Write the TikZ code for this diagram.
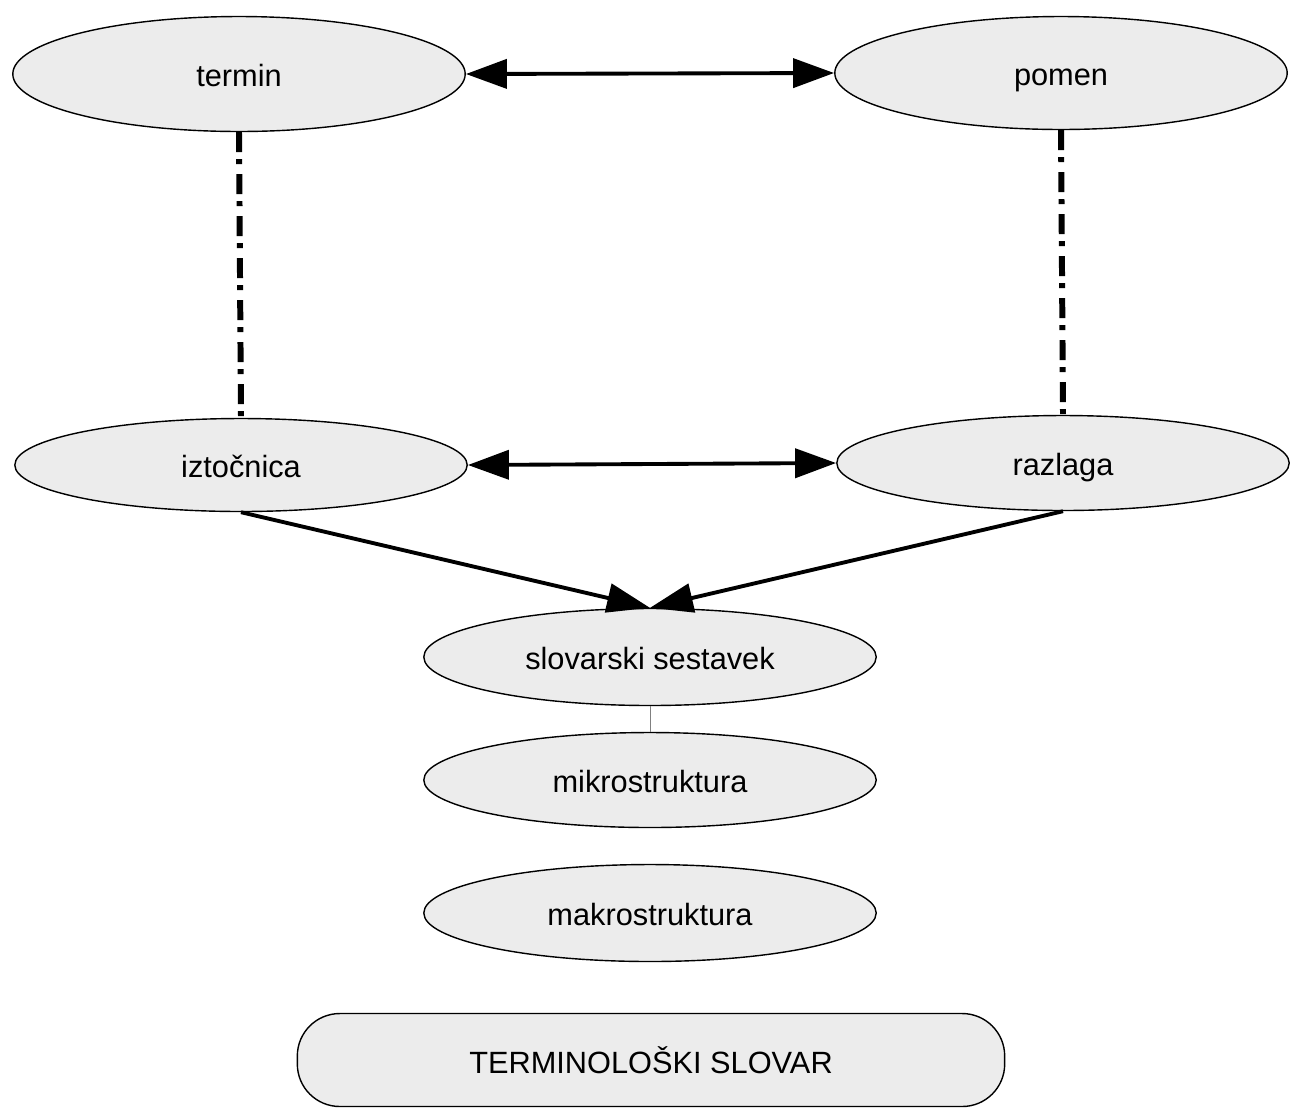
\documentclass[tikz,border=0pt]{standalone}
\usepackage{fontspec}
\setmainfont{Liberation Sans}
\usepackage{xcolor}
\usepackage{tikz}
\usetikzlibrary{arrows.meta,shapes.geometric}
\definecolor{stipple}{RGB}{236,236,236}

\begin{document}
\begin{tikzpicture}[x=0.02cm,y=-0.02cm,
    pojem/.style={ellipse, draw, line width=0.8pt, fill=stipple, inner sep=0pt,
        text height=14pt, text depth=0pt,
        minimum width=9.05cm, minimum height=1.9cm, font=\fontsize{17.5}{21}\selectfont},
    zveza/.style={line width=2.2pt, {Triangle[length=0.82cm,width=0.58cm]}-{Triangle[length=0.82cm,width=0.58cm]}},
    sestava/.style={line width=2.2pt, -{Triangle[length=0.86cm,width=0.58cm]}},
    ustreza/.style={line width=3.4pt, dash pattern=on 0.4cm off 0.14cm on 0.1cm off 0.2cm}]
\useasboundingbox (0,0) rectangle (1290,1110);

% Pojmovna raven
\node[pojem, minimum height=2.3cm] (termin) at (239,74) {termin};
\node[pojem, minimum height=2.26cm] (pomen) at (1061,73) {pomen};

% Slovarska raven
\node[pojem, minimum height=1.86cm] (iztocnica) at (241,465) {iztočnica};
\node[pojem, minimum height=1.9cm] (razlaga) at (1063,463) {razlaga};

% Zgradba slovarja
\node[pojem, minimum height=1.94cm] (sestavek) at (650,657) {slovarski sestavek};
\node[pojem] (mikro) at (650,780) {mikrostruktura};
\node[pojem, minimum height=1.94cm] (makro) at (650,913) {makrostruktura};
\node[draw, line width=0.8pt, fill=stipple, rounded corners=0.85cm, inner sep=0pt,
    minimum width=14.15cm, minimum height=1.86cm, font=\fontsize{17.5}{21}\selectfont]
    (slovar) at (651,1060) {TERMINOLOŠKI SLOVAR};

% Povezave
\draw[zveza] (termin.east) -- (pomen.west);
\draw[zveza] (iztocnica.east) -- (razlaga.west);
\draw[ustreza] (termin.south) -- (iztocnica.north);
\draw[ustreza] (pomen.south) -- (razlaga.north);
\draw[sestava] (iztocnica.south) -- (sestavek.north);
\draw[sestava] (razlaga.south) -- (sestavek.north);
\draw[gray, line width=0.4pt] (sestavek.south) -- (mikro.north);

\end{tikzpicture}
\end{document}
